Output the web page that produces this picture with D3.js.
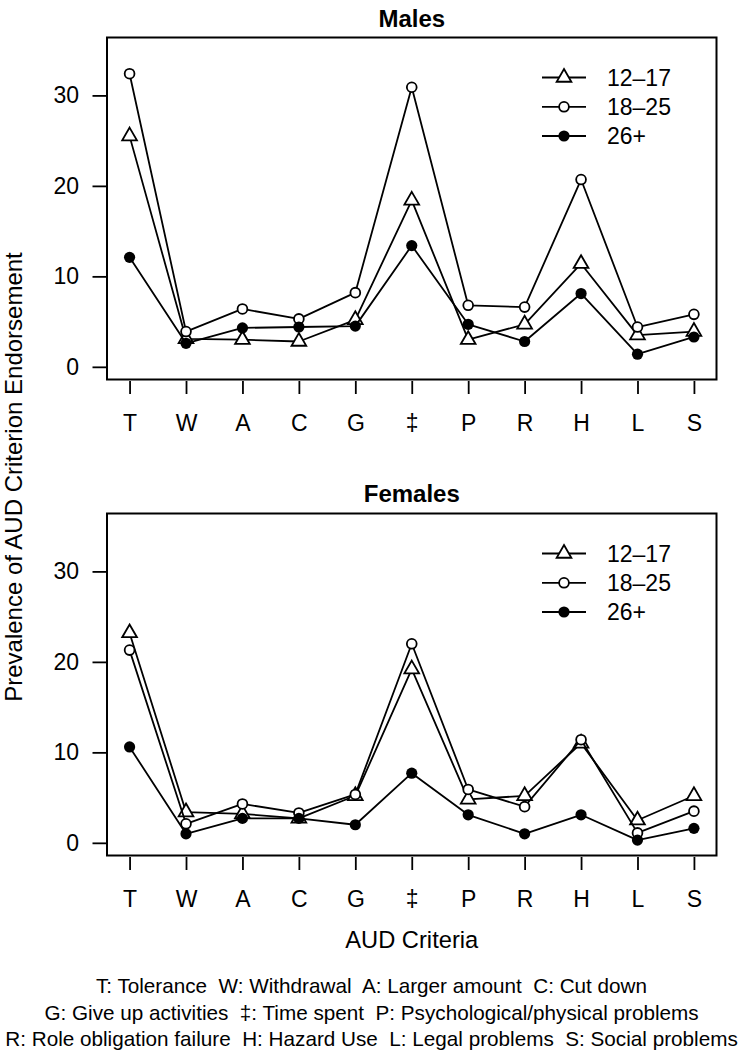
<!DOCTYPE html>
<html><head><meta charset="utf-8">
<script src="https://cdn.jsdelivr.net/npm/d3@7"></script>
<style>
body{margin:0;background:#fff}
svg{display:block}
text{font-family:"Liberation Sans",Arial,Helvetica,sans-serif;fill:#000}
</style>
</head><body>
<svg id="c" width="743" height="1050"></svg>
<script>
// ---- data ----
const categories = ["T","W","A","C","G","\u2021","P","R","H","L","S"];
const groups = ["12\u201317","18\u201325","26+"];
const males12_17   = [25.5, 3.1, 3.0, 2.8, 5.2, 18.4, 3.0, 4.7, 11.4, 3.5, 3.9];
const males18_25   = [32.4, 3.9, 6.4, 5.3, 8.2, 30.9, 6.8, 6.6, 20.7, 4.4, 5.8];
const males26plus  = [12.1, 2.6, 4.3, 4.4, 4.5, 13.4, 4.7, 2.8, 8.1, 1.4, 3.3];
const females12_17 = [23.2, 3.4, 3.2, 2.7, 5.2, 19.2, 4.8, 5.2, 11.0, 2.5, 5.2];
const females18_25 = [21.3, 2.1, 4.3, 3.3, 5.35, 22.0, 5.9, 4.0, 11.4, 1.1, 3.5];
const females26plus= [10.6, 1.0, 2.7, 2.7, 2.0, 7.7, 3.1, 1.0, 3.1, 0.3, 1.6];
const yTicks = [0, 10, 20, 30];
const yLimits = [0, 35];
const panelTitles = ["Males", "Females"];
const xTitle = "AUD Criteria";
const yTitle = "Prevalence of AUD Criterion Endorsement";
const footnotes = [
  "T: Tolerance  W: Withdrawal  A: Larger amount  C: Cut down",
  "G: Give up activities  \u2021: Time spent  P: Psychological/physical problems",
  "R: Role obligation failure  H: Hazard Use  L: Legal problems  S: Social problems"
];

// ---- layout ----
const svg = d3.select("#c");
const boxL = 107, boxR = 716.5;
const panels = [
  {title: panelTitles[0], top: 37.5, bottom: 379.5, series: [males12_17, males18_25, males26plus], titleY: 26.5},
  {title: panelTitles[1], top: 513.5, bottom: 855.5, series: [females12_17, females18_25, females26plus], titleY: 502}
];
const ext = (yLimits[1]-yLimits[0])*0.04;
const x = d3.scalePoint().domain(categories).range([boxL, boxR]).padding(0.4);

const triPath = "M0,-8.5L7.36,4.25L-7.36,4.25Z";
function drawMarker(g, type){
  if(type===0){
    g.append("path").attr("d", triPath).attr("fill","#fff").attr("stroke","#000").attr("stroke-width",1.8);
  } else if(type===1){
    g.append("circle").attr("r",4.9).attr("fill","#fff").attr("stroke","#000").attr("stroke-width",1.8);
  } else {
    g.append("circle").attr("r",5.6).attr("fill","#000");
  }
}

panels.forEach(p => {
  const y = d3.scaleLinear().domain([yLimits[0]-ext, yLimits[1]+ext]).range([p.bottom, p.top]);
  const g = svg.append("g");

  // y axis
  const ya = g.append("g").attr("transform", `translate(${boxL},0)`)
    .call(d3.axisLeft(y).tickValues(yTicks).tickSize(14.5).tickPadding(13.5));
  ya.select(".domain").remove();
  ya.selectAll("line").attr("stroke","#000").attr("stroke-width",1.8);
  ya.selectAll("text").attr("font-size",23).attr("font-family",null);

  // x axis
  const xa = g.append("g").attr("transform", `translate(0,${p.bottom+1.5})`)
    .call(d3.axisBottom(x).tickSize(13).tickPadding(20.5));
  xa.select(".domain").remove();
  xa.selectAll("line").attr("stroke","#000").attr("stroke-width",1.8);
  xa.selectAll("text").attr("font-size",23).attr("font-family",null);

  // box
  g.append("rect").attr("x",boxL).attr("y",p.top).attr("width",boxR-boxL).attr("height",p.bottom-p.top)
    .attr("fill","none").attr("stroke","#000").attr("stroke-width",2);

  // title
  g.append("text").attr("x",(boxL+boxR)/2).attr("y",p.titleY).attr("text-anchor","middle")
    .attr("font-size",24).attr("font-weight","bold").text(p.title);

  // series
  const line = d3.line().x((d,i)=>x(categories[i])).y(d=>y(d));
  p.series.forEach((vals, si) => {
    g.append("path").datum(vals).attr("d", line).attr("fill","none")
      .attr("stroke","#000").attr("stroke-width",1.8).attr("stroke-linejoin","round");
    vals.forEach((v,i) => {
      const m = g.append("g").attr("transform",`translate(${x(categories[i])},${y(v)})`);
      drawMarker(m, si);
    });
  });

  // legend
  const rowOff = [40, 69.3, 98.5];
  groups.forEach((lab, si) => {
    const ly = p.top + rowOff[si];
    g.append("line").attr("x1",542).attr("x2",586).attr("y1",ly).attr("y2",ly)
      .attr("stroke","#000").attr("stroke-width",1.8);
    const m = g.append("g").attr("transform",`translate(564,${ly})`);
    drawMarker(m, si);
    g.append("text").attr("x",607).attr("y",ly).attr("dy","0.36em").attr("font-size",23).text(lab);
  });
});

// y title
svg.append("text").attr("transform","translate(21.5,477) rotate(-90)").attr("text-anchor","middle")
  .attr("font-size",24).text(yTitle);

// x title
svg.append("text").attr("x",(boxL+boxR)/2).attr("y",947.5).attr("text-anchor","middle")
  .attr("font-size",23.7).text(xTitle);

// footnotes
const fy = [993, 1019.5, 1045.5];
footnotes.forEach((t,i)=>{
  svg.append("text").attr("x",371.5).attr("y",fy[i]).attr("text-anchor","middle")
    .attr("font-size",20.7).style("white-space","pre").text(t);
});
</script>
</body></html>
